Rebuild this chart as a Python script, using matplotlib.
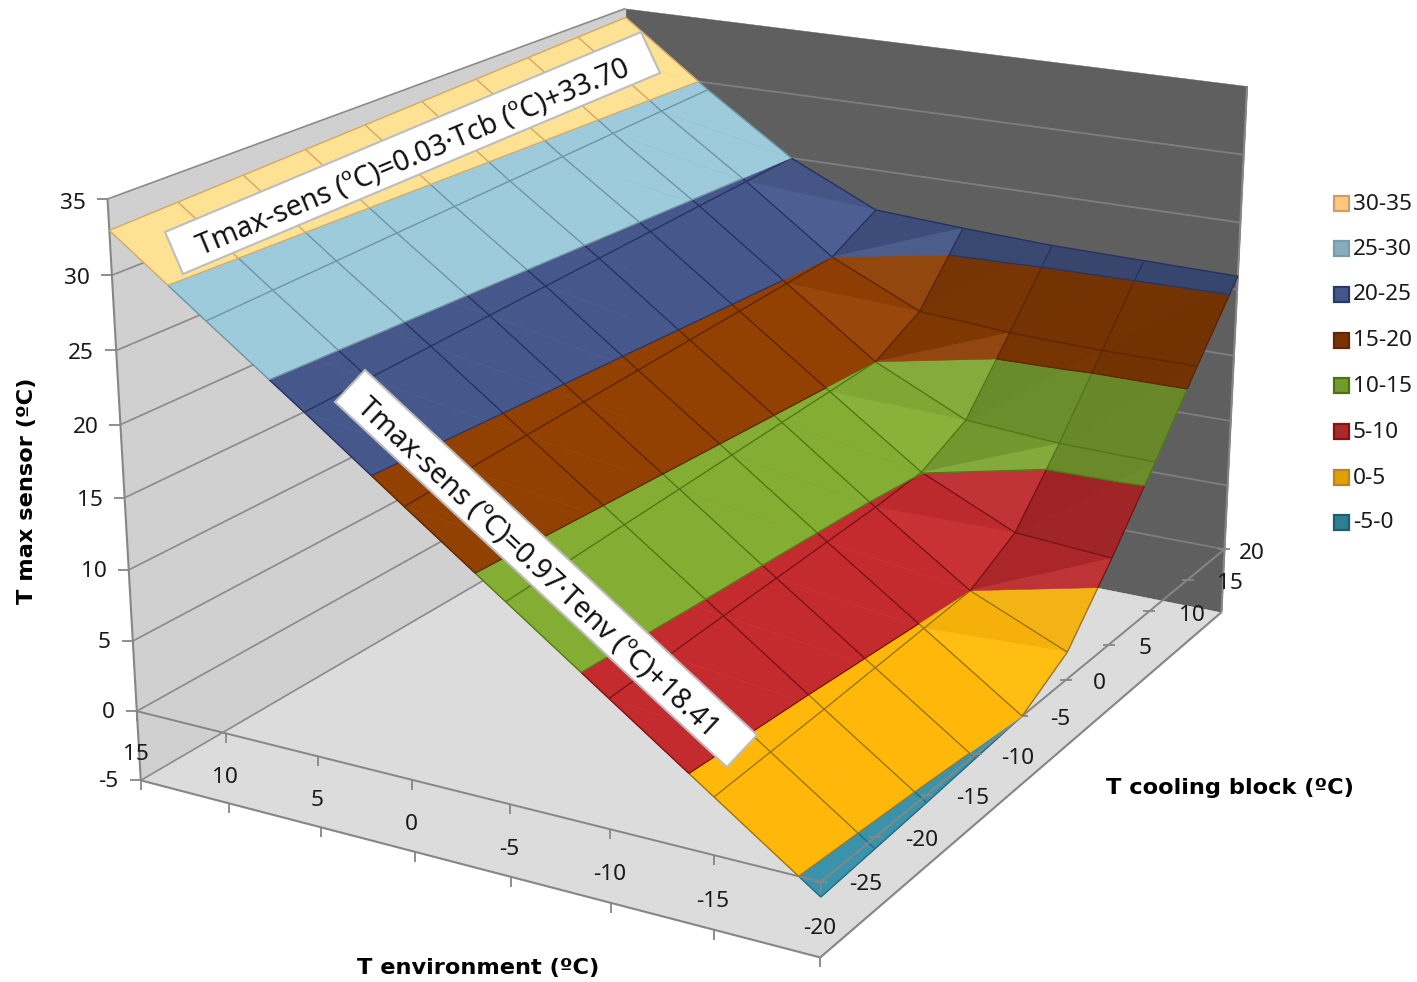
import numpy as np
import matplotlib
matplotlib.use('Agg')
import matplotlib.pyplot as plt
from matplotlib.patches import Polygon, Rectangle
from mpl_toolkits.mplot3d import proj3d
from mpl_toolkits.mplot3d.art3d import Poly3DCollection, Line3DCollection

plt.rcParams['font.family'] = ['Noto Sans', 'DejaVu Sans']

# Measured maximum sensor temperature (deg C)
t_environment = [15, 10, 5, 0, -5, -10, -15, -20]
t_cooling_block = [-25, -20, -15, -10, -5, 0, 5, 10, 15, 20]
tmax_15 = [32.95, 33.1, 33.25, 33.4, 33.55, 33.7, 33.85, 34.0, 34.15, 34.3]
tmax_10 = [28.1, 28.25, 28.4, 28.55, 28.7, 28.85, 29.0, 29.15, 29.3, 29.45]
tmax_5 = [23.3, 23.49, 23.68, 23.87, 24.06, 24.24, 24.43, 24.62, 24.81, 25.0]
tmax_0 = [18.4, 18.6, 18.8, 19.0, 19.2, 19.4, 19.6, 19.8, 20.0, 21.9]
tmax_m5 = [13.55, 13.76, 13.97, 14.17, 14.38, 14.59, 14.79, 15.0, 16.9, 21.5]
tmax_m10 = [8.7, 8.92, 9.13, 9.3, 9.5, 9.7, 10.05, 11.8, 16.4, 21.2]
tmax_m15 = [3.85, 4.05, 4.25, 4.5, 4.75, 5.0, 6.9, 11.3, 16.2, 21.1]
tmax_m20 = [-1.0, -0.78, -0.55, -0.28, 0.0, 2.0, 6.4, 11.2, 16.2, 21.0]
z_ticks = [-5, 0, 5, 10, 15, 20, 25, 30, 35]
band_edges = [-5, 0, 5, 10, 15, 20, 25, 30, 35]
band_labels = ['-5-0', '0-5', '5-10', '10-15', '15-20', '20-25', '25-30', '30-35']

band_faces = ['#3A93AA', '#FFB809', '#C42B2E', '#84AD34', '#934003', '#46588B', '#9DCBDB', '#FEE293']
band_lines = ['#1F6F85', '#9C7410', '#7E1216', '#4F7A14', '#5E2602', '#25335F', '#6F95A3', '#D2A868']
legend_faces = ['#2F7F93', '#E0A000', '#A82A2C', '#729A2C', '#7A3305', '#45568A', '#86AEBE', '#FFC77C']
legend_edges = ['#1A5F72', '#B88520', '#8A1010', '#4F7018', '#602808', '#263A6A', '#7A9CA8', '#C8A070']

W, H, S = 1417, 982, 1500
EDGE = '#868686'
Z = np.array([tmax_15, tmax_10, tmax_5, tmax_0, tmax_m5, tmax_m10, tmax_m15, tmax_m20], float)
TE = np.array(t_environment, float)
TC = np.array(t_cooling_block, float)


def clip_poly(poly, level, keep_above):
    """Clip a 3D polygon against a horizontal plane."""
    result = []
    for a, b in zip(poly, poly[1:] + poly[:1]):
        da, db = a[2] - level, b[2] - level
        ina = da >= 0 if keep_above else da <= 0
        inb = db >= 0 if keep_above else db <= 0
        if ina:
            result.append(a)
        if ina != inb:
            t = da / (da - db)
            result.append(tuple(a[k] + t * (b[k] - a[k]) for k in range(3)))
    return result


def facet_colour(tri, base):
    """Lambert-like shading driven by the facet's gradient."""
    p0, p1, p2 = (np.array(v) for v in tri)
    n = np.cross(p1 - p0, p2 - p0)
    g_env = abs(n[0] / n[2])
    g_cb = abs(n[1] / n[2])
    rgb = np.array(matplotlib.colors.to_rgb(base))
    if g_cb < 0.12 and g_env > 0.8:
        # the plain sloped part of the surface has one flat tone
        return tuple(rgb)
    s = 0.89 + 0.117 * min(g_env, 1.2) - 0.11 * min(g_cb, 1.2) + 0.17 * g_env * g_cb
    w = 0.085 * g_env * g_cb
    rgb = rgb * min(s, 1.06)
    return tuple(np.clip(rgb * (1 - w) + w, 0, 1))


fig = plt.figure(figsize=(W / 100, H / 100), dpi=100)
ax = fig.add_subplot(projection='3d', computed_zorder=False)
ax.set_xlim(15, -20)
ax.set_ylim(-25, 20)
ax.set_zlim(-5, 35)
ax.view_init(19.016, -60.279, 0.052)
ax.set_proj_type('persp', focal_length=0.4457)
ax.set_box_aspect((1.2783, 1.5808, 1), zoom=0.8562)
ax.set_position([(690.3 - S / 2) / W, (H - 443.0 - S / 2) / H, S / W, S / H])
ax.set_axis_off()
ax.patch.set_alpha(0)

te0, te1, tc0, tc1, zb, zt = 15, -20, -25, 20, -5, 35
# Walls and floor of the plot box
walls = [([(te0, tc0, zb), (te0, tc1, zb), (te0, tc1, zt), (te0, tc0, zt)], '#D0D0D0'),
         ([(te0, tc1, zb), (te1, tc1, zb), (te1, tc1, zt), (te0, tc1, zt)], '#5F5F5F'),
         ([(te0, tc0, zb), (te1, tc0, zb), (te1, tc1, zb), (te0, tc1, zb)], '#DCDCDC')]
for i, (verts, col) in enumerate(walls):
    ax.add_collection3d(Poly3DCollection([verts], facecolors=col, edgecolors=col, linewidths=0.3, zorder=1 + 0.01 * i), autolim=False)

# Gridlines on the walls
left_grid = [[(te0, tc0, z), (te0, tc1, z)] for z in z_ticks]
rear_grid = [[(te0, tc1, z), (te1, tc1, z)] for z in z_ticks[1:-1]]
ax.add_collection3d(Line3DCollection(left_grid, colors='#8A8A8A', linewidths=1.2, zorder=2), autolim=False)
ax.add_collection3d(Line3DCollection(rear_grid, colors='#7E7E7E', linewidths=1.3, zorder=2), autolim=False)
frame = [[(te0, tc0, zb), (te0, tc0, zt)], [(te1, tc1, zb), (te1, tc1, zt)], [(te0, tc0, zb), (te1, tc0, zb)], [(te1, tc0, zb), (te1, tc1, zb)]]
ax.add_collection3d(Line3DCollection(frame, colors=EDGE, linewidths=1.5, zorder=2.2), autolim=False)

# Triangulated surface split into the temperature bands
faces = [[] for _ in band_faces]
colours = [[] for _ in band_faces]
contours = [[] for _ in band_faces]
for i in range(len(TE) - 1):
    for j in range(len(TC) - 1):
        a = (TE[i], TC[j], Z[i, j])
        b = (TE[i + 1], TC[j], Z[i + 1, j])
        c = (TE[i + 1], TC[j + 1], Z[i + 1, j + 1])
        d = (TE[i], TC[j + 1], Z[i, j + 1])
        for tri in ([a, b, c], [a, c, d]):
            for k, base in enumerate(band_faces):
                lo, hi = band_edges[k], band_edges[k + 1]
                poly = clip_poly(clip_poly(list(tri), lo, True), hi, False) if min(v[2] for v in tri) < hi and max(v[2] for v in tri) > lo else []
                if len(poly) >= 3:
                    faces[k].append(poly)
                    colours[k].append(facet_colour(tri, base))
                    ends = [v for v in poly if abs(v[2] - lo) < 1e-9]
                    if len(ends) == 2:
                        contours[k].append(ends)

# Mesh lines coloured by the band they cross
mesh = [[] for _ in band_faces]
grid_edges = []
for i in range(len(TE)):
    grid_edges += [((TE[i], TC[j], Z[i, j]), (TE[i], TC[j + 1], Z[i, j + 1])) for j in range(len(TC) - 1)]
for j in range(len(TC)):
    grid_edges += [((TE[i], TC[j], Z[i, j]), (TE[i + 1], TC[j], Z[i + 1, j])) for i in range(len(TE) - 1)]
for p, q in grid_edges:
    for k in range(len(band_faces)):
        lo, hi = band_edges[k], band_edges[k + 1]
        z0, z1 = p[2], q[2]
        if max(z0, z1) <= lo or min(z0, z1) >= hi:
            continue
        t = [0.0, 1.0]
        if z0 != z1:
            ta, tb = sorted(((lo - z0) / (z1 - z0), (hi - z0) / (z1 - z0)))
            t = [max(ta, 0.0), min(tb, 1.0)]
        mesh[k].append([tuple(p[m] + u * (q[m] - p[m]) for m in range(3)) for u in t])

# Axis lines on the zero plane pass over the negative band and under the rest
zero_axes = [[(te0, tc0, 0), (te1, tc0, 0)], [(te1, tc0, 0), (te1, tc1, 0)]]
for k in range(len(band_faces)):
    zo = 3 + 0.1 * k if k == 0 else 4 + 0.01 * k
    if faces[k]:
        ax.add_collection3d(Poly3DCollection(faces[k], facecolors=colours[k], edgecolors=colours[k], linewidths=0.35, zorder=zo), autolim=False)
    if mesh[k]:
        ax.add_collection3d(Line3DCollection(mesh[k], colors=band_lines[k], linewidths=1.0, zorder=zo + 0.005), autolim=False)
    if contours[k]:
        ax.add_collection3d(Line3DCollection(contours[k], colors=band_lines[k], linewidths=0.9, zorder=zo + 0.006), autolim=False)
ax.add_collection3d(Line3DCollection(zero_axes, colors=EDGE, linewidths=1.4, zorder=3.5), autolim=False)

# Tick marks
ax.plot([te0] * len(z_ticks), [tc0] * len(z_ticks), z_ticks, ls='none', marker=0, ms=8, mew=1.3, color=EDGE, zorder=3.6)
for level in (zb, 0):
    ax.plot(t_environment, [tc0] * len(TE), [level] * len(TE), ls='none', marker=3, ms=7, mew=1.3, color=EDGE, zorder=3.6)
ax.plot([te1] * len(TC), t_cooling_block, [0] * len(TC), ls='none', marker='_', ms=9, mew=1.3, color=EDGE, zorder=3.6)

# Overlay in figure pixels for labels, titles, fit-equation boxes and the legend
ov = fig.add_axes([0, 0, 1, 1], zorder=5)
ov.set_xlim(0, W)
ov.set_ylim(H, 0)
ov.axis('off')
ov.patch.set_alpha(0)

ax.apply_aspect()
camera = ax.get_proj()


def to_pixels(x, y, z):
    """Project a point of the 3D box to overlay pixel coordinates."""
    xs, ys, _ = proj3d.proj_transform(np.array([x], float), np.array([y], float), np.array([z], float), camera)
    px, py = ax.transData.transform((xs[0], ys[0]))
    return px, H - py


LBL = dict(fontsize=16.3, color='#1a1a1a', va='center')
for z in z_ticks:
    px, py = to_pixels(te0, tc0, z)
    ov.text(px - 22, py + 1 + 0.09 * max(z, 0), str(z), ha='right', **LBL)
for n, t in enumerate(t_environment):
    px, py = to_pixels(t, tc0, 0)
    ov.text(px - 1, py + 43.5 + 0.4 * n, str(t), ha='center', **LBL)
cb_dx = [45, 46, 46, 42, 38, 33, 36, 43, 42, 27]
cb_dy = [3, 3, 4, 4, 3, 4, 4, 4, 4, 4]
for c, dx, dy in zip(t_cooling_block, cb_dx, cb_dy):
    px, py = to_pixels(te1, c, 0)
    ov.text(px + dx, py + dy, str(c), ha='center', **LBL)

TITLE = dict(fontsize=16.2, fontweight='bold', family=['DejaVu Sans'], color='black', ha='center', va='center')
ov.text(27, 491, 'T max sensor (ºC)', rotation=90, **TITLE)
ov.text(478, 968, 'T environment (ºC)', **TITLE)
ov.text(1230, 788, 'T cooling block (ºC)', **TITLE)

ov.add_patch(Polygon([(165, 232), (641, 32), (660, 73), (183, 274)], closed=True, fc='white', ec='#BDBDBD', lw=1.5))
ov.add_patch(Polygon([(365, 370), (335, 402), (727, 767), (757, 735)], closed=True, fc='white', ec='#BDBDBD', lw=1.5))
ov.text(413, 158, 'Tmax-sens (ºC)=0.03·Tcb (ºC)+33.70', rotation=22.8, rotation_mode='anchor',
        ha='center', va='center', fontsize=20.5, color='#111111')
ov.text(538, 568, 'Tmax-sens (ºC)=0.97·Tenv (ºC)+18.41', rotation=-43, rotation_mode='anchor',
        ha='center', va='center', fontsize=20.5, color='#111111')

legend_y = [203, 248, 294, 340, 385, 431, 477, 522]
for y, lab, fc, ec in zip(legend_y, band_labels[::-1], legend_faces[::-1], legend_edges[::-1]):
    ov.add_patch(Rectangle((1333.5, y - 7.5), 15, 15, fc=fc, ec=ec, lw=1.6))
    ov.text(1353, y + 1, lab, ha='left', va='center', fontsize=16.3, color='#1a1a1a')

fig.savefig('out.png', dpi=100)
